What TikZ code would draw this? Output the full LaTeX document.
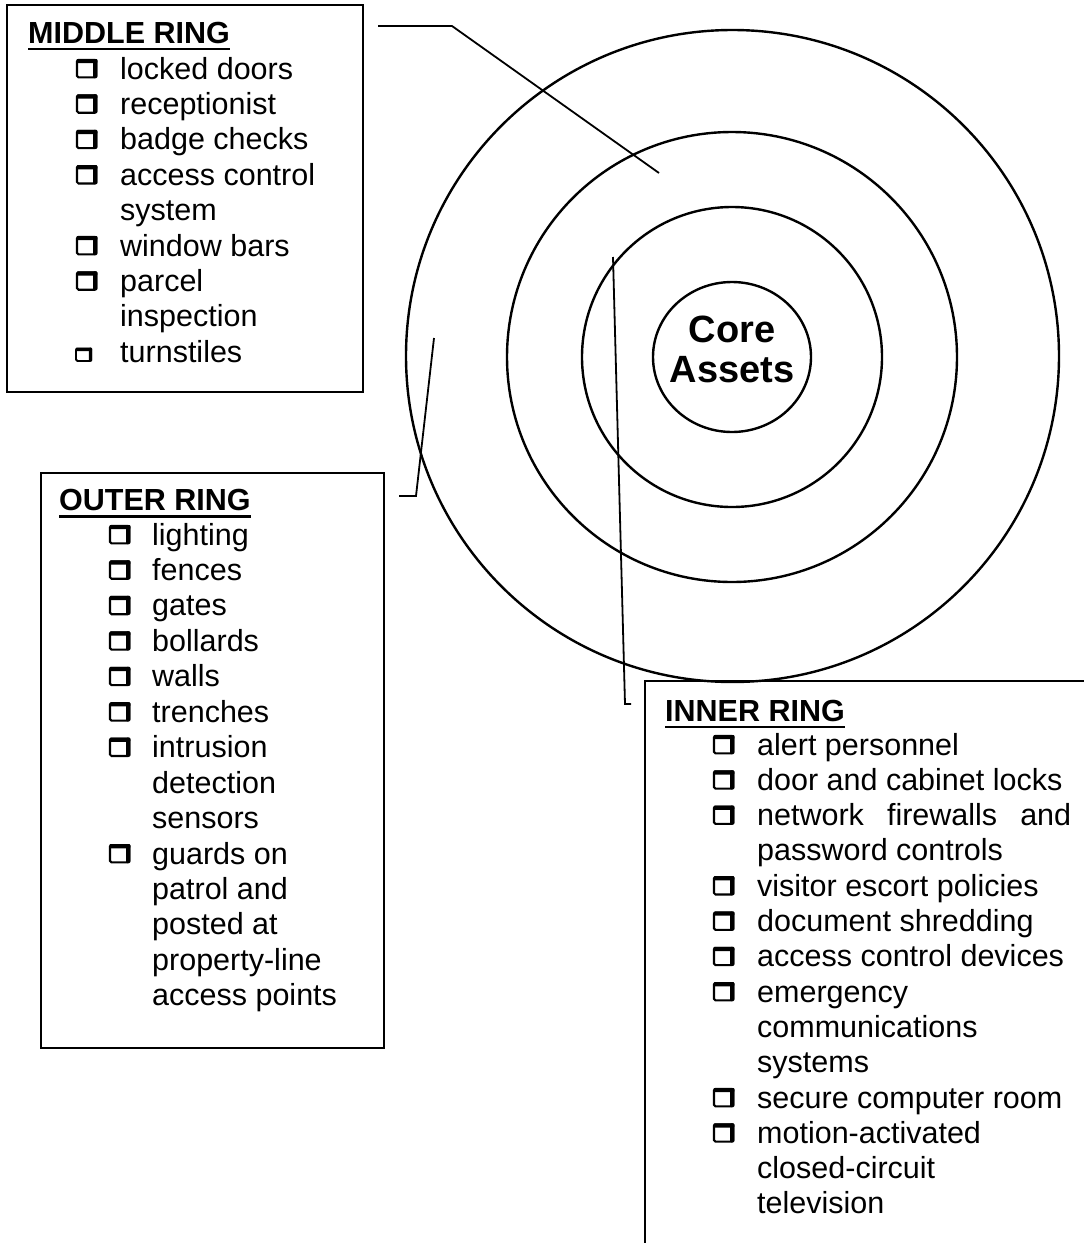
\documentclass[tikz,border=0pt]{standalone}
\usepackage{fontspec}
\setmainfont{Liberation Sans}
\usetikzlibrary{shapes.geometric}
\begin{document}
\begin{tikzpicture}[x=1pt,y=-1pt,
  ring/.style={draw, ellipse, line width=2.4pt, inner sep=0pt, outer sep=0pt},
  panel/.style={draw, rectangle, line width=1.8pt, inner sep=0pt, outer sep=0pt, anchor=north west},
  leader/.style={line width=1.8pt},
  itemtext/.style={anchor=base west, inner sep=0pt, font=\fontsize{30.5}{35.4}\selectfont},
  headtext/.style={anchor=base west, inner sep=0pt, font=\fontsize{30.5}{35.4}\selectfont\bfseries},
  coretext/.style={align=center, inner sep=0pt, font=\fontsize{38}{40}\selectfont\bfseries},
  uline/.style={line width=2.8pt},
  cbox/.pic={\draw[line width=2.1pt, rounded corners=1.5pt] (1,1) rectangle (20.3,18.3);
             \fill[rounded corners=1pt] (0.4,0) rectangle (21.3,4.2);
             \fill[rounded corners=1pt] (17.2,0) rectangle (21.3,19);},
  cboxs/.pic={\draw[line width=1.9pt, rounded corners=1.5pt] (1,1) rectangle (16.2,13.3);
             \fill[rounded corners=1pt] (0.4,0) rectangle (17.1,3.4);
             \fill[rounded corners=1pt] (13.8,0) rectangle (17.1,14);},
]
\clip (0,0) rectangle (1084,1243);
\useasboundingbox (0,0) rectangle (1084,1243);
\fill[white] (0,0) rectangle (1084,1243);

% rings
\node[ring, minimum width=653, minimum height=652] (outer) at (732.5,356) {};
\node[ring, minimum width=450, minimum height=450] (middle) at (732,357) {};
\node[ring, minimum width=300, minimum height=300] (inner) at (732,357) {};
\node[ring, minimum width=158, minimum height=150] (core) at (732,357) {};
\node[coretext] (coretxt) at (732,349.5) {Core\\Assets};

% panels
\node[panel, minimum width=356, minimum height=387] (midbox) at (7,5) {};
\node[panel, minimum width=343, minimum height=575] (outbox) at (41,473) {};
\node[panel, minimum width=460, minimum height=700] (innbox) at (645,681) {};

% headings
\node[headtext] (midhead) at (28,43) {MIDDLE RING};
\draw[uline] ([yshift=-6pt]midhead.base west) -- ([yshift=-6pt]midhead.base east);
\node[headtext] (outhead) at (59,510) {OUTER RING};
\draw[uline] ([yshift=-6.5pt]outhead.base west) -- ([yshift=-6.5pt]outhead.base east);
\node[headtext] (innhead) at (665,721) {INNER RING};
\draw[uline] ([yshift=-6pt]innhead.base west) -- ([yshift=-6pt]innhead.base east);

% middle ring items
\foreach \t [count=\i from 0] in {locked doors, receptionist, badge checks, access control, system, window bars, parcel, inspection, turnstiles}
  {\node[itemtext] (mid\i) at (120,{79+35.4*\i}) {\t};}
\foreach \r in {0,1,2,3,5,6}
  {\pic at (76,{79+35.4*\r-20}) {cbox};}
\pic at (75,{79+35.4*8-14.5}) {cboxs};

% outer ring items
\foreach \t [count=\i from 0] in {lighting, fences, gates, bollards, walls, trenches, intrusion, detection, sensors, guards on, patrol and, posted at, property-line, access points}
  {\node[itemtext] (out\i) at (152,{545+35.45*\i}) {\t};}
\foreach \r in {0,1,2,3,4,5,6,9}
  {\pic at (109,{545+35.45*\r-20}) {cbox};}

% inner ring items
\foreach \t [count=\i from 0] in {alert personnel, door and cabinet locks, {\hbox to 314pt{network\hfill firewalls\hfill and}}, password controls, visitor escort policies, document shredding, access control devices, emergency, communications, systems, secure computer room, motion-activated, closed-circuit, television}
  {\node[itemtext] (inn\i) at (757,{755+35.3*\i}) {\t};}
\foreach \r in {0,1,2,4,5,6,7,10,11}
  {\pic at (713,{755+35.3*\r-20}) {cbox};}

% leaders
\coordinate (mStart) at (378,26);
\coordinate (mBend) at (452,26);
\coordinate (mEnd) at (659,173);
\draw[leader] (mStart) -- (mBend) -- (mEnd);
\coordinate (oStart) at (399,496);
\coordinate (oBend) at (416,496);
\coordinate (oEnd) at (434,338);
\draw[leader] (oStart) -- (oBend) -- (oEnd);
\coordinate (iStart) at (613,257);
\coordinate (iBend) at (625,704);
\coordinate (iEnd) at (631,704);
\draw[leader] (iStart) -- (iBend) -- (iEnd);
\end{tikzpicture}
\end{document}
